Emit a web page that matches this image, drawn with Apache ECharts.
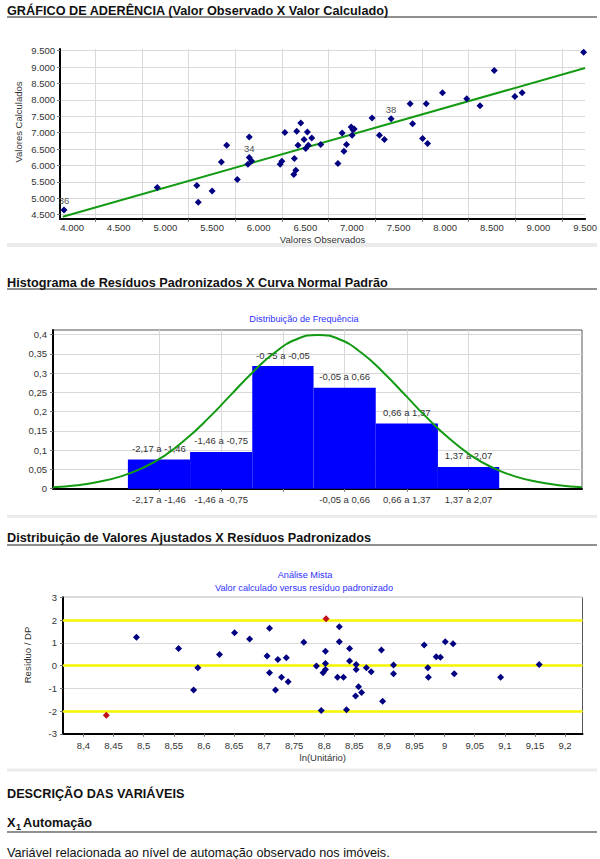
<!DOCTYPE html>
<html><head><meta charset="utf-8">
<script src="https://cdn.jsdelivr.net/npm/echarts@6/dist/echarts.min.js"></script>
<style>html,body{margin:0;padding:0;background:#fff;}#c{width:600px;height:859px;}</style>
</head><body><div id="c"></div>
<script>
// ---------- Chart 1: Gráfico de aderência ----------
const obsValues  = [4913,5337,5352,5501,5600,5657,5771,5899,5924,5885,6231,6249,6281,6383,6377,6398,6408,6422,6451,6487,6522,6504,6532,6569,6665,6895,6850,6914,6942,6992,7010,7002,7024,7295,7348,7650,7757,7811,9484,8526,7971,8231,8373,8747,8825,7624,7797,7216];
const calcValues = [5332,5393,4877,5220,6110,6617,5575,6868,6140,6040,6040,6131,7002,6213,5727,5857,7041,6617,7293,6790,7020,6516,6617,6838,6637,6990,6061,6434,6637,7172,7093,6920,7112,6920,6790,7275,6820,6668,9449,8893,8216,8034,7822,8104,8216,7882,7882,7445];
const taggedObs  = [3913,5899,7420];
const taggedCalc = [4643,6243,7427];
const taggedNames = ['36','34','38'];
const fitLineObs  = [3900,9500];
const fitLineCalc = [4440,8970];
const xLabels1 = [4000,4500,5000,5500,6000,6500,7000,7500,8000,8500,9000,9500];
const xGrid1   = [4250,4750,5250,5750,6250,6750,7250,7750,8250,8750,9250];
const yLabels1 = [4500,5000,5500,6000,6500,7000,7500,8000,8500,9000,9500];

// ---------- Chart 2: Histograma ----------
const binEdges = [-2.17,-1.46,-0.75,-0.05,0.66,1.37,2.07];
const binFreq  = [0.0756,0.0953,0.318,0.262,0.169,0.0565];
const binNames = ['-2,17 a -1,46','-1,46 a -0,75','-0,75 a -0,05','-0,05 a 0,66','0,66 a 1,37','1,37 a 2,07'];
const binsWithAxisLabel = [0,1,3,4,5];
const yLabels2 = [0,0.05,0.1,0.15,0.2,0.25,0.3,0.35,0.4];
const normalX = [-3.025,-2.75,-2.5,-2.25,-2,-1.75,-1.5,-1.25,-1,-0.75,-0.5,-0.25,0,0.25,0.5,0.75,1,1.25,1.5,1.75,2,2.25,2.5,2.75,3.015];
const normalY = [0.004,0.009,0.018,0.032,0.054,0.086,0.130,0.183,0.242,0.301,0.352,0.387,0.399,0.387,0.352,0.301,0.242,0.183,0.130,0.086,0.054,0.032,0.018,0.009,0.004];

// ---------- Chart 3: Valores ajustados x resíduos ----------
const fittedLn = [8.488,8.558,8.651,8.676,8.709,8.825,8.766,8.825,8.842,8.895,8.966,9.001,9.014,8.802,8.590,8.583,8.626,8.705,8.723,8.737,8.709,8.729,8.740,8.719,8.842,8.787,8.802,8.802,8.798,8.853,8.853,8.870,8.878,8.822,8.832,8.857,8.862,8.852,8.897,8.795,8.837,8.915,8.915,8.972,8.973,8.986,8.993,9.016,9.093,9.157];
const stdResid = [1.24,0.75,1.44,1.17,1.64,1.71,1.02,1.05,0.75,0.68,0.90,1.05,0.96,0.63,-0.10,-1.08,0.49,0.42,0.27,0.34,-0.32,-0.51,-0.71,-1.08,0.20,-0.02,0.09,-0.17,-0.32,0.05,-0.17,-0.10,-0.27,-0.51,-0.51,-0.93,-1.18,-1.34,-1.57,-1.98,-1.94,0.02,-0.36,-0.10,-0.51,0.39,0.36,-0.36,-0.51,0.05];
const outlierLn    = [8.438,8.803];
const outlierResid = [-2.18,2.06];
const refLevels = [-2,0,2];
const xLabels3 = [8.4,8.45,8.5,8.55,8.6,8.65,8.7,8.75,8.8,8.85,8.9,8.95,9,9.05,9.1,9.15,9.2];
const yLabels3 = [-3,-2,-1,0,1,2,3];

// ---------- helpers ----------
const FONT = '"Liberation Sans", Arial, sans-serif';
const AXC = '#333';
const NAVY = '#000080';
const GREEN = '#139a13';
const BLUE_T = '#3030ff';
const fmtThousand = v => Math.round(v).toString().replace(/\B(?=(\d{3})+(?!\d))/g, '.');
const fmtComma = v => String(+(+v).toFixed(3)).replace('.', ',');
const binCenters = binFreq.map((_, i) => (binEdges[i] + binEdges[i+1]) / 2);
const nearestBin = v => { let b = 0, d = 1e9; binCenters.forEach((c,i)=>{ if (Math.abs(c-v) < d) { d = Math.abs(c-v); b = i; } }); return b; };

const lbl = (extra) => Object.assign({color: AXC, fontSize: 9.5, fontFamily: FONT}, extra || {});
const axisLine = {show: true, onZero: false, lineStyle: {color: '#000', width: 2}};
const grayGrid = {show: true, lineStyle: {color: '#d9d9d9', width: 1}};

const chart = echarts.init(document.getElementById('c'), null, {renderer: 'svg', width: 600, height: 859});

const txt = (text, x, y, font, fill, extra) => ({type: 'text', x, y, silent: true, style: Object.assign({text, font, fill: fill || '#000', verticalAlign: 'middle'}, extra || {})});
const hline = (y, x1, x2, color, w) => ({type: 'line', silent: true, shape: {x1, y1: y, x2, y2: y}, style: {stroke: color, lineWidth: w}});
const band = (y, h) => ({type: 'rect', silent: true, shape: {x: 7, y, width: 590, height: h}, style: {fill: '#ebebeb'}});
const HB = 'bold 12.7px ' + FONT;

const option = {
  backgroundColor: '#fff',
  animation: false,
  textStyle: {fontFamily: FONT},
  graphic: [
    txt('GRÁFICO DE ADERÊNCIA (Valor Observado X Valor Calculado)', 7, 10.5, HB, '#111'),
    hline(17, 7, 597, '#222', 1.2),
    txt('Valores Calculados', 18, 122, '9.5px ' + FONT, AXC, {align: 'center'}),
    band(243, 4),
    txt('Histograma de Resíduos Padronizados X Curva Normal Padrão', 7, 282.5, HB, '#111'),
    hline(289, 7, 597, '#222', 1.2),
    txt('Distribuição de Frequência', 304, 319, '9.2px ' + FONT, BLUE_T, {align: 'center'}),
    band(515, 3),
    txt('Distribuição de Valores Ajustados X Resíduos Padronizados', 7, 538, HB, '#111'),
    hline(545, 7, 597, '#222', 1.2),
    txt('Análise Mista', 305, 575, '9.2px ' + FONT, BLUE_T, {align: 'center'}),
    txt('Valor calculado versus resíduo padronizado', 304, 587.5, '9.2px ' + FONT, BLUE_T, {align: 'center'}),
    txt('Resíduo / DP', 27.5, 655, '9.5px ' + FONT, AXC, {align: 'center'}),
    band(768.5, 3),
    txt('DESCRIÇÃO DAS VARIÁVEIS', 7, 794, HB, '#111'),
    txt('X', 7, 823, HB, '#111'),
    txt('1', 16, 827, 'bold 9px ' + FONT, '#111'),
    txt('Automação', 23, 823, HB, '#111'),
    hline(832, 7, 597, '#222', 1.2),
    txt('Variável relacionada ao nível de automação observado nos imóveis.', 7, 853, '12.7px ' + FONT, '#111')
  ].map((g, i) => (i === 2 || i === 12) ? Object.assign(g, {rotation: Math.PI / 2}) : g),
  grid: [
    {left: 60, right: 13, top: 49, height: 170, show: false},
    {left: 53, right: 18, top: 330, height: 158.7, show: true, borderColor: '#555', borderWidth: 1},
    {left: 63, right: 17.5, top: 597.3, height: 136.5, show: true, borderColor: '#555', borderWidth: 1}
  ],
  xAxis: [
    {gridIndex: 0, type: 'value', min: 3870, max: 9500,
     name: 'Valores Observados', nameLocation: 'middle', nameGap: 15, nameTextStyle: lbl(),
     axisLine, axisTick: {show: true, length: 3, customValues: xGrid1, lineStyle: {color: '#777'}},
     axisLabel: Object.assign(lbl({margin: 3, formatter: fmtThousand}), {customValues: xLabels1}),
     splitLine: grayGrid},
    {gridIndex: 1, type: 'value', min: -3.025, max: 3.015,
     axisLine, axisTick: {show: true, length: 3, customValues: binCenters, lineStyle: {color: '#777'}},
     axisLabel: Object.assign(lbl({margin: 6, formatter: v => binNames[nearestBin(v)]}), {customValues: binsWithAxisLabel.map(i => binCenters[i])}),
     splitLine: grayGrid},
    {gridIndex: 2, type: 'value', min: 8.366, max: 9.229,
     name: 'ln(Unitário)', nameLocation: 'middle', nameGap: 19, nameTextStyle: lbl(),
     axisLine, axisTick: {show: true, length: 3, customValues: xLabels3, lineStyle: {color: '#777'}},
     axisLabel: Object.assign(lbl({margin: 6.5, formatter: fmtComma}), {customValues: xLabels3}),
     splitLine: {show: false}}
  ],
  yAxis: [
    {gridIndex: 0, type: 'value', min: 4370, max: 9550,
     axisLine, axisTick: {show: true, length: 3, customValues: yLabels1, lineStyle: {color: '#777'}},
     axisLabel: Object.assign(lbl({margin: 5, formatter: fmtThousand}), {customValues: yLabels1}),
     splitLine: grayGrid},
    {gridIndex: 1, type: 'value', min: 0, max: 0.4117,
     axisLine, axisTick: {show: true, length: 3, customValues: yLabels2, lineStyle: {color: '#777'}},
     axisLabel: Object.assign(lbl({margin: 6, formatter: fmtComma}), {customValues: yLabels2}),
     splitLine: grayGrid},
    {gridIndex: 2, type: 'value', min: -3, max: 3,
     axisLine, axisTick: {show: true, length: 3, customValues: yLabels3, lineStyle: {color: '#777'}},
     axisLabel: Object.assign(lbl({margin: 6, formatter: fmtComma}), {customValues: yLabels3}),
     splitLine: grayGrid}
  ],
  series: [
    {type: 'line', xAxisIndex: 0, yAxisIndex: 0, data: fitLineObs.map((x, i) => [x, fitLineCalc[i]]),
     showSymbol: false, lineStyle: {color: GREEN, width: 2}, z: 2, silent: true},
    {type: 'scatter', xAxisIndex: 0, yAxisIndex: 0, data: obsValues.map((x, i) => [x, calcValues[i]]),
     symbol: 'diamond', symbolSize: 7, itemStyle: {color: NAVY, opacity: 1}, z: 3},
    {type: 'scatter', xAxisIndex: 0, yAxisIndex: 0, data: taggedObs.map((x, i) => ({value: [x, taggedCalc[i]], name: taggedNames[i]})),
     symbol: 'diamond', symbolSize: 7, itemStyle: {color: NAVY, opacity: 1}, z: 3, clip: false,
     label: {show: true, position: 'top', distance: 1, formatter: p => p.name, color: '#555', fontSize: 9.5, fontFamily: FONT}},

    {type: 'custom', xAxisIndex: 1, yAxisIndex: 1, z: 2,
     data: binFreq.map((f, i) => [binEdges[i], binEdges[i+1], f, i]),
     encode: {x: [0, 1], y: 2},
     renderItem: (params, api) => {
       const lo = api.value(0), hi = api.value(1), h = api.value(2), i = api.value(3);
       const p0 = api.coord([lo, 0]), p1 = api.coord([hi, h]);
       return {type: 'group', children: [
         {type: 'rect', shape: {x: p0[0], y: p1[1], width: p1[0] - p0[0], height: p0[1] - p1[1]}, style: {fill: '#0000ff'}},
         {type: 'text', x: (p0[0] + p1[0]) / 2, y: p1[1] - 11, style: {text: binNames[i], fill: '#333', font: '9.5px ' + FONT, align: 'center', verticalAlign: 'middle'}}
       ]};
     }},
    {type: 'line', xAxisIndex: 1, yAxisIndex: 1, data: normalX.map((x, i) => [x, normalY[i]]),
     smooth: true, showSymbol: false, lineStyle: {color: GREEN, width: 2}, z: 4, silent: true},

    {type: 'scatter', xAxisIndex: 2, yAxisIndex: 2, data: fittedLn.map((x, i) => [x, stdResid[i]]),
     symbol: 'diamond', symbolSize: 7, itemStyle: {color: NAVY, opacity: 1}, z: 3,
     markLine: {silent: true, symbol: ['none', 'none'], label: {show: false}, z: 1,
       lineStyle: {color: '#f5f500', width: 2.5, type: 'solid'},
       data: refLevels.map(v => ({yAxis: v}))}},
    {type: 'scatter', xAxisIndex: 2, yAxisIndex: 2, data: outlierLn.map((x, i) => [x, outlierResid[i]]),
     symbol: 'diamond', symbolSize: 7, itemStyle: {color: '#c0101a', opacity: 1}, z: 3}
  ]
};
chart.setOption(option);
</script>
</body></html>
